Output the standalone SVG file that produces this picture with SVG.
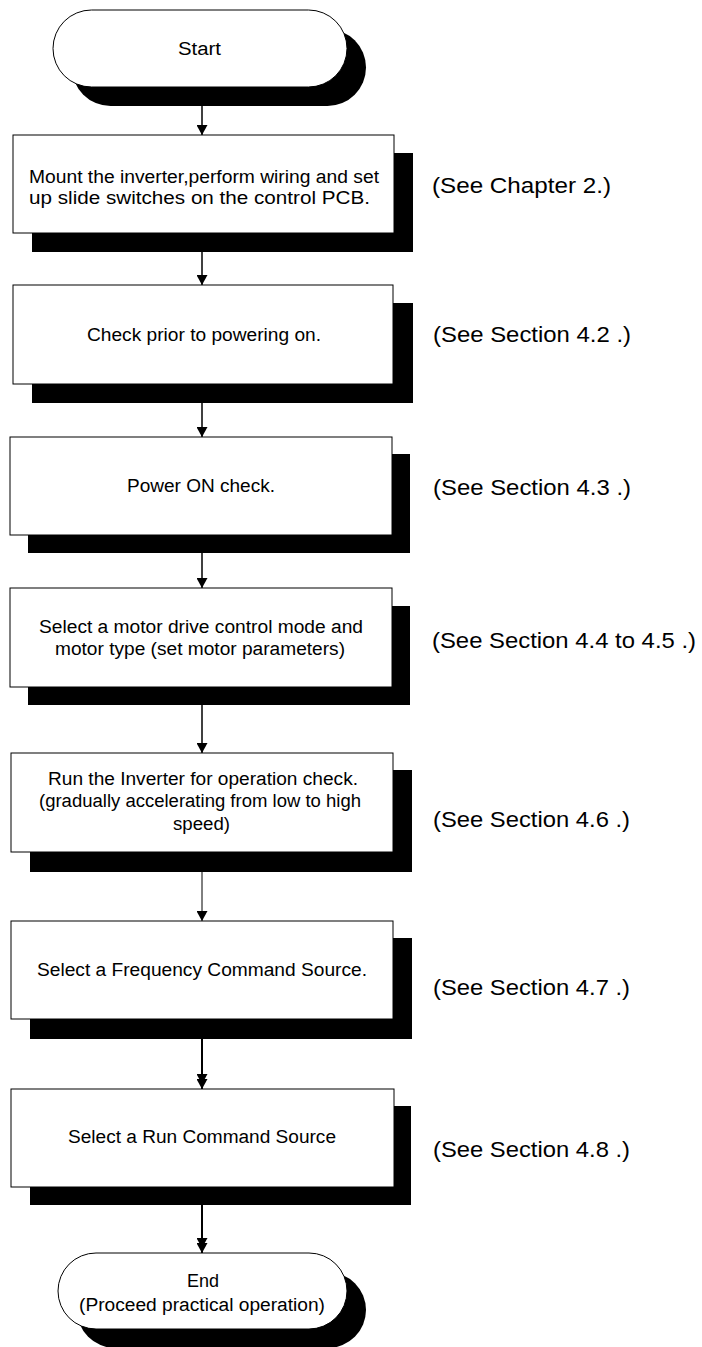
<svg xmlns="http://www.w3.org/2000/svg" width="702" height="1347" viewBox="0 0 702 1347">
<style>
.sh{fill:#000;}
.bx{fill:#fff;stroke:#000;stroke-width:1;}
.t{font-family:"Liberation Sans",Arial,sans-serif;font-size:18px;fill:#000;}
.r{font-family:"Liberation Sans",Arial,sans-serif;font-size:22.5px;fill:#000;}
.c{fill:none;stroke:#000;stroke-width:1.5;}
.thin{stroke-width:1;}
.thick{stroke-width:2;}
</style>
<defs>
<marker id="ah" markerUnits="userSpaceOnUse" markerWidth="11" markerHeight="11" refX="10" refY="5.5" orient="auto">
<path d="M0,0 L10,5.5 L0,11 z" fill="#000"/>
</marker>
</defs>
<rect width="702" height="1347" fill="#fff"/>

<g id="start">
<rect class="sh" x="72" y="29" width="294" height="77" rx="38.5" ry="38.5"/>
<rect class="bx" x="53" y="10" width="294" height="77" rx="38.5" ry="38.5"/>
<text class="t" x="178" y="55" textLength="43" lengthAdjust="spacingAndGlyphs">Start</text>
</g>

<g id="step1">
<rect class="sh" x="32" y="153" width="381" height="99"/>
<rect class="bx" x="13" y="135" width="381" height="98"/>
<text class="t" x="29" y="183" textLength="350" lengthAdjust="spacingAndGlyphs">Mount the inverter,perform wiring and set</text>
<text class="t" x="29" y="204" textLength="341" lengthAdjust="spacingAndGlyphs">up slide switches on the control PCB.</text>
</g>

<g id="step2">
<rect class="sh" x="32" y="303" width="381" height="100"/>
<rect class="bx" x="13" y="285" width="380" height="99"/>
<text class="t" x="87" y="341" textLength="234" lengthAdjust="spacingAndGlyphs">Check prior to powering on.</text>
</g>

<g id="step3">
<rect class="sh" x="28" y="454" width="382" height="99"/>
<rect class="bx" x="10" y="437" width="382" height="98"/>
<text class="t" x="127" y="492" textLength="148" lengthAdjust="spacingAndGlyphs">Power ON check.</text>
</g>

<g id="step4">
<rect class="sh" x="28" y="606" width="382" height="99"/>
<rect class="bx" x="10" y="588" width="382" height="99"/>
<text class="t" x="39" y="633" textLength="324" lengthAdjust="spacingAndGlyphs">Select a motor drive control mode and</text>
<text class="t" x="55" y="655" textLength="290" lengthAdjust="spacingAndGlyphs">motor type (set motor parameters)</text>
</g>

<g id="step5">
<rect class="sh" x="30" y="770" width="382" height="102"/>
<rect class="bx" x="11" y="753" width="382" height="99"/>
<text class="t" x="48" y="785" textLength="310" lengthAdjust="spacingAndGlyphs">Run the Inverter for operation check.</text>
<text class="t" x="39" y="807" textLength="322" lengthAdjust="spacingAndGlyphs">(gradually accelerating from low to high</text>
<text class="t" x="173" y="830" textLength="57" lengthAdjust="spacingAndGlyphs">speed)</text>
</g>

<g id="step6">
<rect class="sh" x="30" y="938" width="382" height="101"/>
<rect class="bx" x="11" y="921" width="382" height="98"/>
<text class="t" x="37" y="976" textLength="330" lengthAdjust="spacingAndGlyphs">Select a Frequency Command Source.</text>
</g>

<g id="step7">
<rect class="sh" x="30" y="1106" width="381" height="99"/>
<rect class="bx" x="11" y="1089" width="383" height="98"/>
<text class="t" x="68" y="1143" textLength="268" lengthAdjust="spacingAndGlyphs">Select a Run Command Source</text>
</g>

<g id="end">
<rect class="sh" x="77" y="1272" width="289" height="76" rx="38" ry="38"/>
<rect class="bx" x="58" y="1253" width="289" height="76" rx="38" ry="38"/>
<text class="t" x="187" y="1287" textLength="32" lengthAdjust="spacingAndGlyphs">End</text>
<text class="t" x="79" y="1311" textLength="246" lengthAdjust="spacingAndGlyphs">(Proceed practical operation)</text>
</g>

<g id="refs">
<text class="r" x="432" y="193" textLength="179" lengthAdjust="spacingAndGlyphs">(See Chapter 2.)</text>
<text class="r" x="433" y="342" textLength="198" lengthAdjust="spacingAndGlyphs">(See Section 4.2 .)</text>
<text class="r" x="433" y="495" textLength="198" lengthAdjust="spacingAndGlyphs">(See Section 4.3 .)</text>
<text class="r" x="432" y="648" textLength="264" lengthAdjust="spacingAndGlyphs">(See Section 4.4 to 4.5 .)</text>
<text class="r" x="433" y="827" textLength="197" lengthAdjust="spacingAndGlyphs">(See Section 4.6 .)</text>
<text class="r" x="433" y="995" textLength="197" lengthAdjust="spacingAndGlyphs">(See Section 4.7 .)</text>
<text class="r" x="433" y="1157" textLength="197" lengthAdjust="spacingAndGlyphs">(See Section 4.8 .)</text>
</g>

<g id="connectors">
<path class="c" d="M202,106 L202,135" marker-end="url(#ah)"/>
<path class="c" d="M202,252 L202,285" marker-end="url(#ah)"/>
<path class="c" d="M202,403 L202,437" marker-end="url(#ah)"/>
<path class="c" d="M202,553 L202,588" marker-end="url(#ah)"/>
<path class="c" d="M202,705 L202,753" marker-end="url(#ah)"/>
<path class="c thin" d="M202,872 L202,921" marker-end="url(#ah)"/>
<path class="c thick" d="M202,1039 L202,1084 L202,1089" marker-mid="url(#ah)" marker-end="url(#ah)"/>
<path class="c thick" d="M202,1205 L202,1248 L202,1253" marker-mid="url(#ah)" marker-end="url(#ah)"/>
</g>
</svg>
